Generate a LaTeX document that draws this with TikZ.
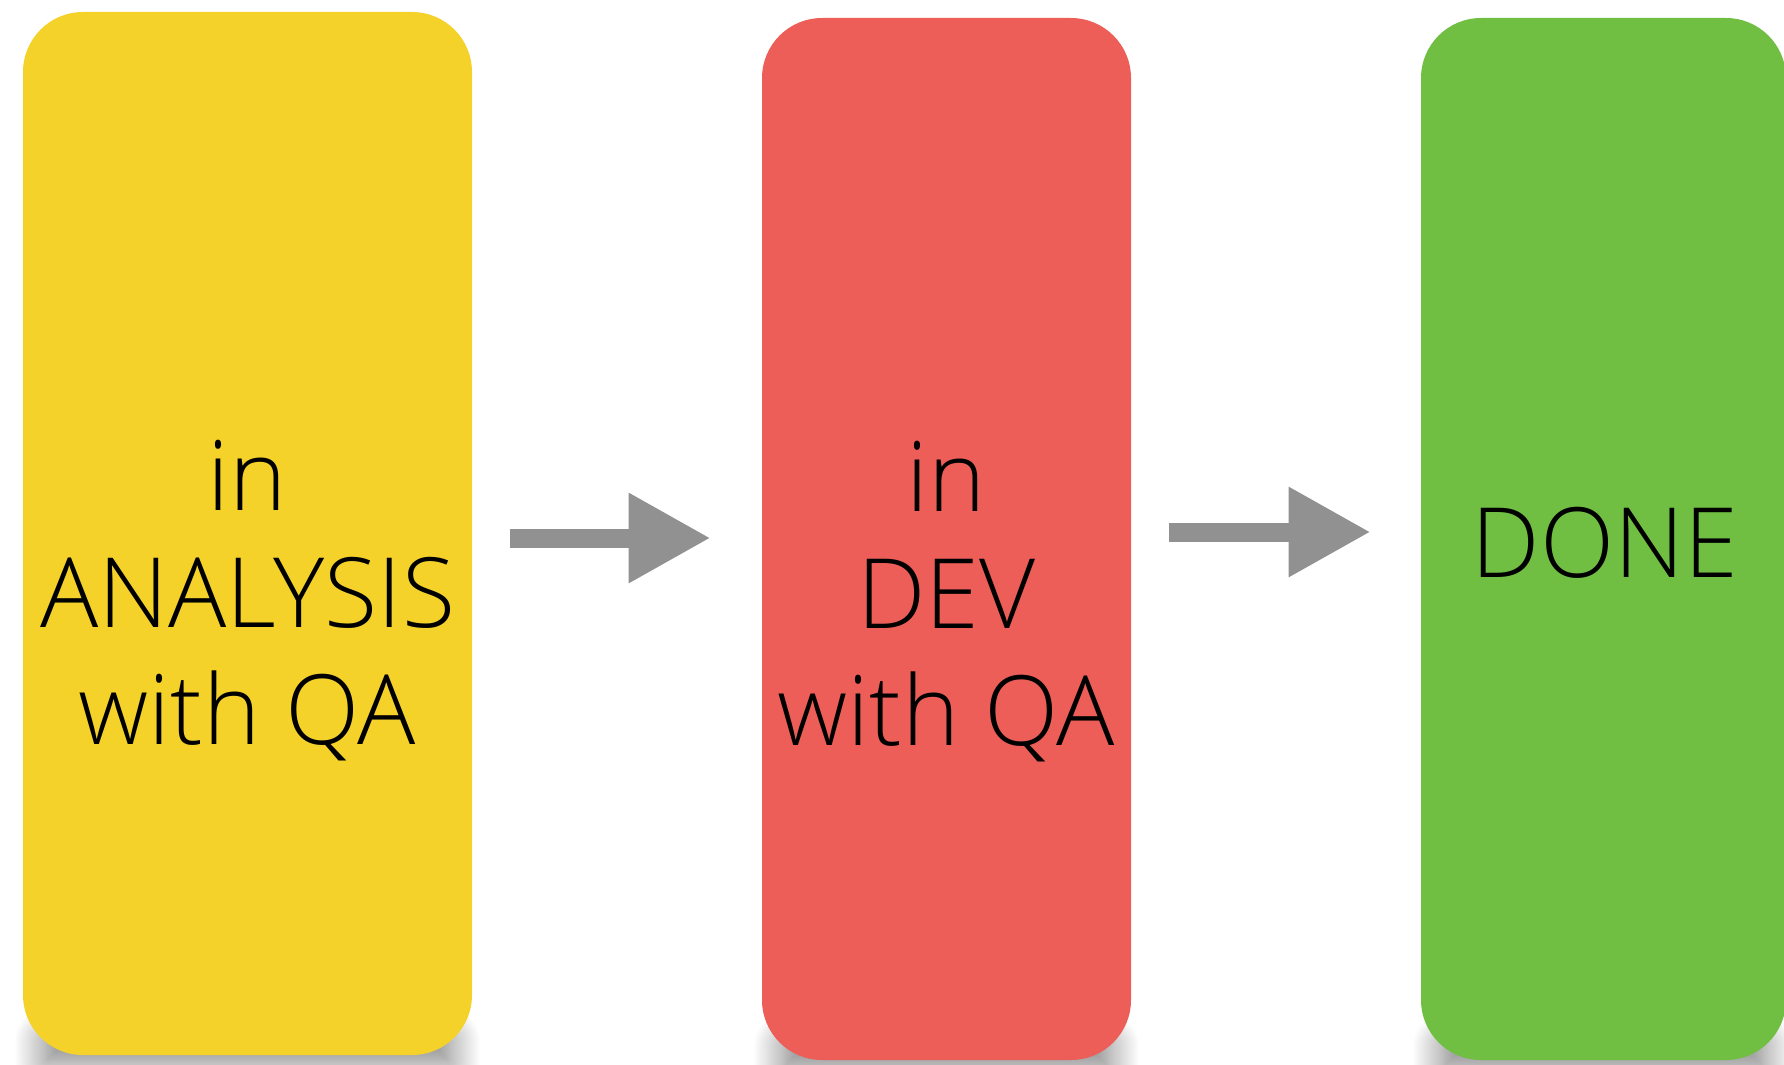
\documentclass[tikz,border=0pt]{standalone}
\usepackage{fontspec}
\setmainfont{Open Sans}[UprightFont=* Light]
\usetikzlibrary{positioning,arrows.meta,backgrounds,shadows.blur}
\definecolor{analysisyellow}{HTML}{F5D22A}
\definecolor{devred}{HTML}{EC5E57}
\definecolor{donegreen}{HTML}{70BF43}
\definecolor{flowgray}{HTML}{919191}
\tikzset{
stage/.style={rounded corners=30pt,inner sep=0pt,minimum height=521pt},
stagetext/.style={anchor=base,align=center,inner sep=0pt,font=\fontsize{48.5pt}{58.5pt}\selectfont,text=black},
stageshadow/.style={blur shadow={shadow xshift=0pt,shadow yshift=-2.5pt,shadow blur radius=16pt,shadow blur steps=30,shadow opacity=55}},
flowarrow/.style={-{Triangle[length=41pt,width=42.5pt]},line width=9.5pt,flowgray}
}

\begin{document}
\begin{tikzpicture}[x=0.5pt,y=-0.5pt]
\useasboundingbox (0,0) rectangle (1784,1065);
\node[stage,fill=analysisyellow,minimum width=224.5pt,minimum height=521.5pt] (analysis) at (247.5,533.5) {};
\node[stage,fill=devred,minimum width=184.5pt] (dev) at (946.5,539) {};
\node[stage,fill=donegreen,minimum width=182.5pt] (done) at (1603.5,539) {};
\node[stagetext] (analysistext) at (247.5,744) {in\\ANALYSIS\\with QA};
\node[stagetext] (devtext) at (946.5,745) {in\\DEV\\with QA};
\node[stagetext] (donetext) at (1605,577) {DONE};
\draw[flowarrow] ([shift={(38,4.5)}]analysis.east) -- ([shift={(-51,-1)}]dev.west);
\draw[flowarrow] ([shift={(38,-7)}]dev.east) -- ([shift={(-50,-7)}]done.west);
% soft shadows under the stages
\begin{scope}[on background layer]
\path[stageshadow] ([shift={(24,-20)}]analysis.south west) rectangle ([shift={(-24,0)}]analysis.south east);
\path[stageshadow] ([shift={(24,-20)}]dev.south west) rectangle ([shift={(-24,0)}]dev.south east);
\path[stageshadow] ([shift={(24,-20)}]done.south west) rectangle ([shift={(-24,0)}]done.south east);
\end{scope}
\end{tikzpicture}
\end{document}
